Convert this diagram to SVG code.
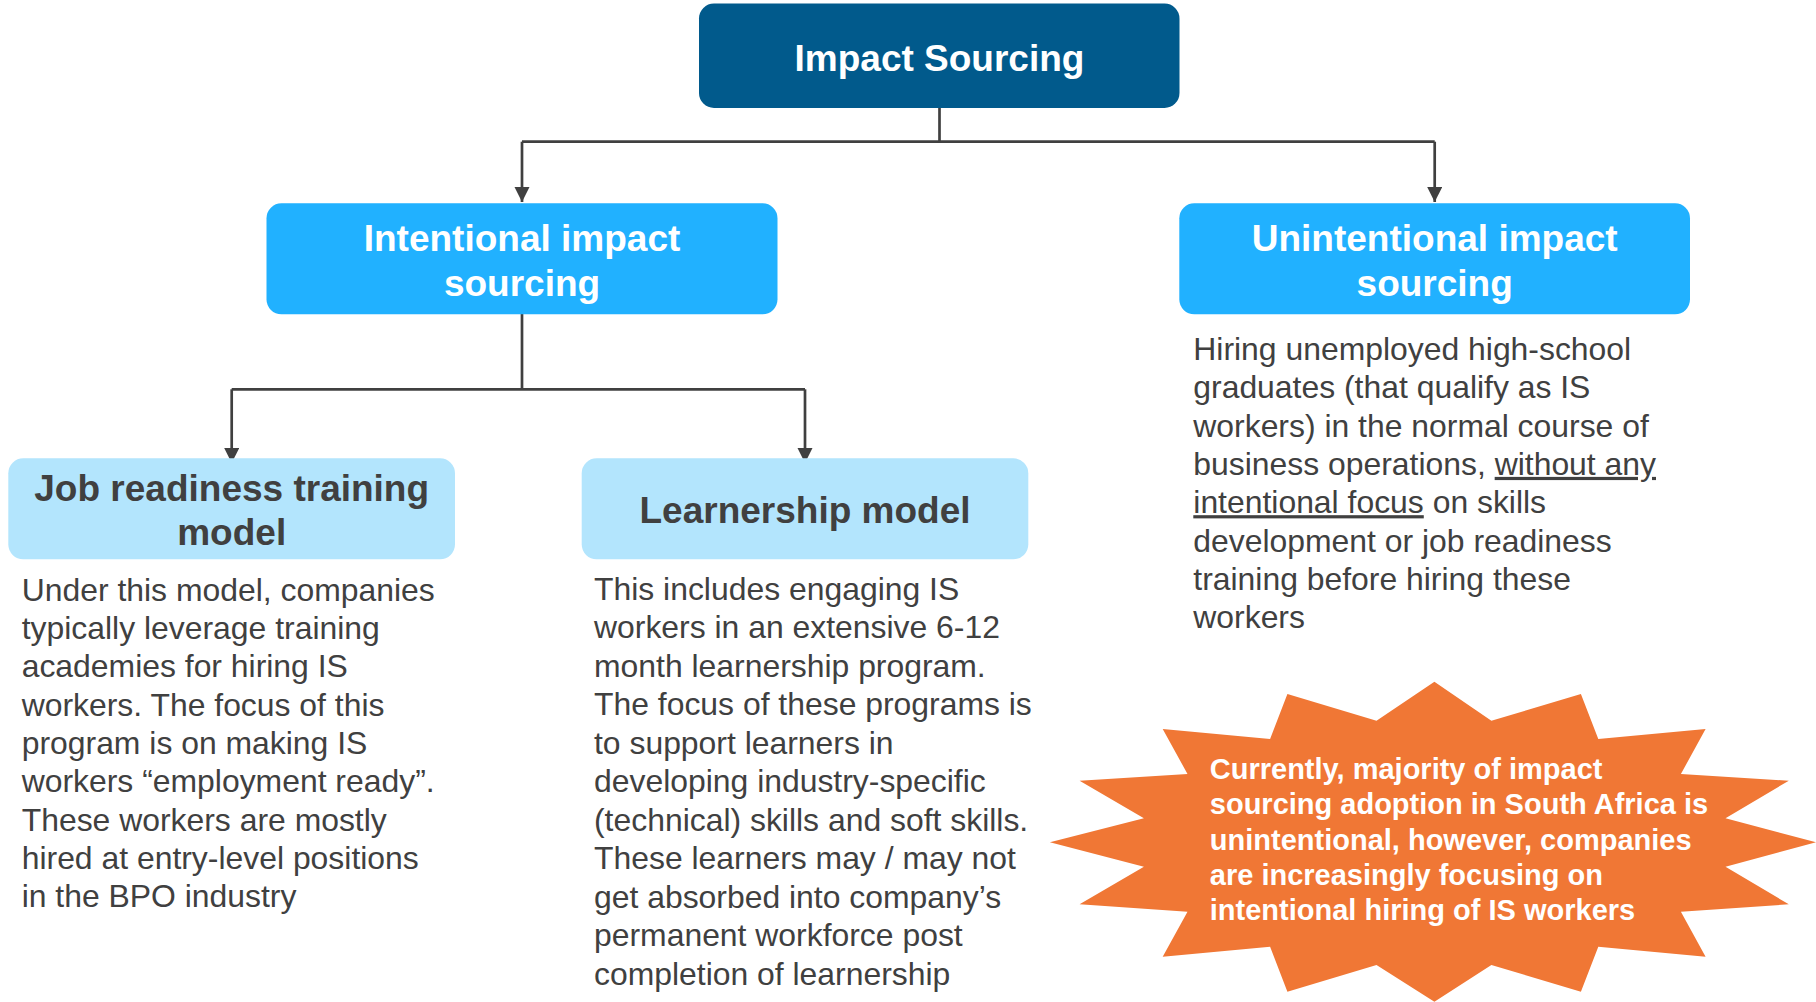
<svg xmlns="http://www.w3.org/2000/svg" width="1816" height="1002" viewBox="0 0 1816 1002">
<defs>
<style>
.hd{font-family:"Liberation Sans",Arial,sans-serif;font-weight:bold;font-size:37px;text-anchor:middle}
.w{fill:#ffffff}
.g{fill:#404040}
.body{font-family:"Liberation Sans",Arial,sans-serif;font-size:31.9px;fill:#404040}
.star{font-family:"Liberation Sans",Arial,sans-serif;font-weight:bold;font-size:29px;fill:#ffffff}
.con{fill:none;stroke:#404040;stroke-width:2.7}
.ul{text-decoration:underline}
</style>
<marker id="arr" markerUnits="userSpaceOnUse" markerWidth="16" markerHeight="16" refX="15" refY="7.5" orient="auto">
<path d="M0,0 L15,7.5 L0,15 z" fill="#404040"/>
</marker>
</defs>
<rect width="1816" height="1002" fill="#ffffff"/>

<g id="connectors">
<path class="con" d="M939.5,108 V141.7"/>
<path class="con" d="M522,141.7 H1434.7"/>
<path class="con" d="M522,141.7 V202" marker-end="url(#arr)"/>
<path class="con" d="M1434.7,141.7 V202" marker-end="url(#arr)"/>
<path class="con" d="M522,314 V389.3"/>
<path class="con" d="M231.7,389.3 H805"/>
<path class="con" d="M231.7,389.3 V463" marker-end="url(#arr)"/>
<path class="con" d="M805,389.3 V463" marker-end="url(#arr)"/>
</g>

<g id="impact-sourcing">
<rect x="699" y="3.5" width="480.5" height="104.5" rx="15" fill="#015A8C"/>
<text class="hd w" x="939.5" y="71">Impact Sourcing</text>
</g>

<g id="intentional">
<rect x="266.5" y="203.3" width="511" height="111" rx="15" fill="#21B1FF"/>
<text class="hd w" x="522" y="250.7">Intentional impact</text>
<text class="hd w" x="522" y="296">sourcing</text>
</g>

<g id="unintentional">
<rect x="1179.3" y="203.3" width="510.7" height="111" rx="15" fill="#21B1FF"/>
<text class="hd w" x="1434.7" y="250.7">Unintentional impact</text>
<text class="hd w" x="1434.7" y="296">sourcing</text>
<text class="body" x="1193.3" y="360">Hiring unemployed high-school</text>
<text class="body" x="1193.3" y="398.3">graduates (that qualify as IS</text>
<text class="body" x="1193.3" y="436.6">workers) in the normal course of</text>
<text class="body" x="1193.3" y="474.9">business operations, <tspan class="ul">without any</tspan></text>
<text class="body" x="1193.3" y="513.2"><tspan class="ul">intentional focus</tspan> on skills</text>
<text class="body" x="1193.3" y="551.5">development or job readiness</text>
<text class="body" x="1193.3" y="589.8">training before hiring these</text>
<text class="body" x="1193.3" y="628.1">workers</text>
</g>

<g id="job-readiness">
<rect x="8.3" y="458.3" width="446.7" height="101" rx="15" fill="#B3E5FD"/>
<text class="hd g" x="231.7" y="500.7">Job readiness training</text>
<text class="hd g" x="231.7" y="545">model</text>
<text class="body" x="21.7" y="600.7">Under this model, companies</text>
<text class="body" x="21.7" y="639">typically leverage training</text>
<text class="body" x="21.7" y="677.3">academies for hiring IS</text>
<text class="body" x="21.7" y="715.6">workers. The focus of this</text>
<text class="body" x="21.7" y="753.9">program is on making IS</text>
<text class="body" x="21.7" y="792.2">workers “employment ready”.</text>
<text class="body" x="21.7" y="830.5">These workers are mostly</text>
<text class="body" x="21.7" y="868.8">hired at entry-level positions</text>
<text class="body" x="21.7" y="907.1">in the BPO industry</text>
</g>

<g id="learnership">
<rect x="581.7" y="458.3" width="446.6" height="101" rx="15" fill="#B3E5FD"/>
<text class="hd g" x="805" y="522.5">Learnership model</text>
<text class="body" x="594" y="599.6">This includes engaging IS</text>
<text class="body" x="594" y="638.1">workers in an extensive 6-12</text>
<text class="body" x="594" y="676.6">month learnership program.</text>
<text class="body" x="594" y="715.1">The focus of these programs is</text>
<text class="body" x="594" y="753.6">to support learners in</text>
<text class="body" x="594" y="792.1">developing industry-specific</text>
<text class="body" x="594" y="830.6">(technical) skills and soft skills.</text>
<text class="body" x="594" y="869.1">These learners may / may not</text>
<text class="body" x="594" y="907.6">get absorbed into company’s</text>
<text class="body" x="594" y="946.1">permanent workforce post</text>
<text class="body" x="594" y="984.6">completion of learnership</text>
</g>

<g id="callout">
<polygon fill="#F07735" points="1434.4,681.7 1491.4,720.7 1580.9,694 1598.3,739 1705.6,729 1680.9,774 1788.8,780.7 1725.5,818.3 1816,842.3 1725.5,866.7 1788.8,904.3 1680.9,911.7 1705.6,956.7 1598.3,946.7 1580.9,991.7 1491.4,965 1434.4,1001.7 1376.5,965 1287.4,991.7 1270.1,946.7 1162.7,956.7 1187.5,911.7 1079.6,904.3 1143.9,866.7 1049.9,842.3 1143.9,818.3 1079.6,780.7 1187.5,774 1162.7,729 1270.1,739 1287.4,694 1376.5,720.7"/>
<text class="star" x="1209.8" y="779.3">Currently, majority of impact</text>
<text class="star" x="1209.8" y="814.3">sourcing adoption in South Africa is</text>
<text class="star" x="1209.8" y="850">unintentional, however, companies</text>
<text class="star" x="1209.8" y="885">are increasingly focusing on</text>
<text class="star" x="1209.8" y="920">intentional hiring of IS workers</text>
</g>
</svg>
